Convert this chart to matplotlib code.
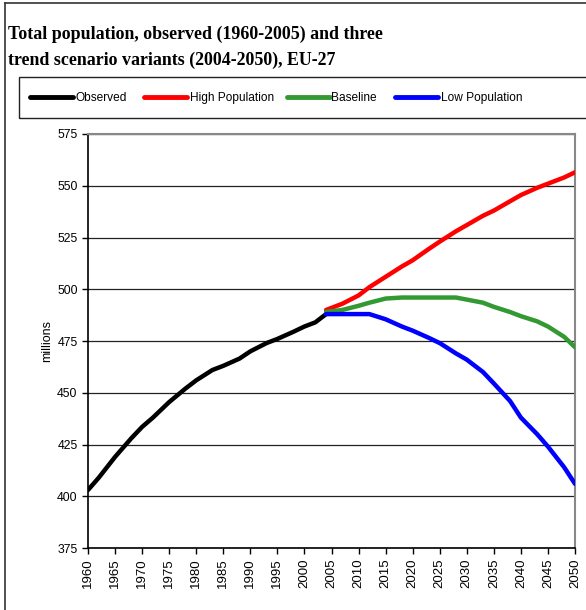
import matplotlib

matplotlib.use("Agg")

import matplotlib.pyplot as plt  # noqa: E402
from matplotlib.lines import Line2D  # noqa: E402
from matplotlib.patches import Rectangle  # noqa: E402

# ── data (millions) ────────────────────────────────────────────────────────────

obs_years = [1960, 1962, 1965, 1968, 1970, 1972, 1975, 1978, 1980, 1983, 1985,
             1988, 1990, 1993, 1995, 1998, 2000, 2002, 2004]
obs_values = [403, 409, 419, 428, 433.5, 438, 445.5, 452, 456, 461, 463,
              466.5, 470, 474, 476, 479.5, 482, 484, 488]

proj_years = [2004, 2007, 2010, 2012, 2015, 2018, 2020, 2023, 2025, 2028,
              2030, 2033, 2035, 2038, 2040, 2043, 2045, 2048, 2050]
high_values = [490, 493, 497, 501, 506, 511, 514, 519.5, 523, 528,
               531, 535.5, 538, 542.5, 545.5, 549, 551, 554, 556.5]
base_values = [489, 490, 492, 493.5, 495.5, 496, 496, 496, 496, 496,
               495, 493.5, 491.5, 489, 487, 484.5, 482, 477, 472]
low_values = [488, 488, 488, 488, 485.5, 482, 480, 476.5, 474, 469,
              466, 460, 454.5, 446, 438, 430, 424, 414, 406]

series = [
    ("Observed", obs_years, obs_values, "#000000"),
    ("High Population", proj_years, high_values, "#ff0000"),
    ("Baseline", proj_years, base_values, "#339933"),
    ("Low Population", proj_years, low_values, "#0000ff"),
]

# ── figure ─────────────────────────────────────────────────────────────────────

W, H = 586, 610
fig = plt.figure(figsize=(W / 100, H / 100), dpi=100)
fig.patch.set_facecolor("white")

# outer frame (left + top edges visible)
fig.add_artist(Line2D([5 / W, 1], [1 - 3 / H, 1 - 3 / H], color="#333333", lw=1.2))
fig.add_artist(Line2D([5 / W, 5 / W], [0, 1 - 3 / H], color="#333333", lw=1.2))

# title
fig.text(8 / W, 1 - 34 / H, "Total population, observed (1960-2005) and three",
         family="Liberation Serif", fontweight="bold", fontsize=12.9, va="center")
fig.text(8 / W, 1 - 60 / H, "trend scenario variants (2004-2050), EU-27",
         family="Liberation Serif", fontweight="bold", fontsize=12.9, va="center")

# legend box
fig.add_artist(Rectangle((19 / W, 1 - 118 / H), 1, 41 / H, transform=fig.transFigure,
                         fill=False, edgecolor="#222222", lw=1.0))
legend_pos = [(30, 76), (144, 190), (287, 331), (395, 441)]
for (label, _, _, color), (lx, tx) in zip(series, legend_pos):
    fig.add_artist(Line2D([lx / W, (lx + 43) / W], [1 - 97 / H] * 2, color=color, lw=3.5,
                          solid_capstyle="round"))
    fig.text(tx / W, 1 - 98 / H, label, family="Liberation Sans", fontsize=8.6,
             va="center", ha="left")

# plot area
ax = fig.add_axes([88 / W, 1 - 548 / H, (575 - 88) / W, (548 - 134) / H])
for label, xs, ys, color in series:
    ax.plot(xs, ys, color=color, lw=3.2, solid_capstyle="round", zorder=3)

ax.set_xlim(1960, 2050)
ax.set_ylim(375, 575)
ax.set_yticks(range(375, 576, 25))
ax.set_xticks(range(1960, 2051, 5))
ax.set_xticklabels([str(y) for y in range(1960, 2051, 5)], rotation=90)
ax.grid(axis="y", color="#222222", lw=0.9)
ax.set_axisbelow(True)
ax.tick_params(axis="both", direction="out", length=4, width=1)
ax.tick_params(axis="x", labelsize=9.5)
ax.tick_params(axis="y", labelsize=8.8)
for t in ax.get_xticklabels() + ax.get_yticklabels():
    t.set_family("Liberation Sans")
ax.spines["left"].set_color("black")
ax.spines["bottom"].set_color("black")
ax.spines["left"].set_linewidth(1.2)
ax.spines["bottom"].set_linewidth(1.2)
ax.spines["top"].set_color("#888888")
ax.spines["right"].set_color("#888888")
ax.spines["top"].set_linewidth(1.5)
ax.spines["right"].set_linewidth(1.5)
ax.set_ylabel("millions", family="Liberation Sans", fontsize=9, labelpad=3)

fig.savefig("out.png", dpi=100)
